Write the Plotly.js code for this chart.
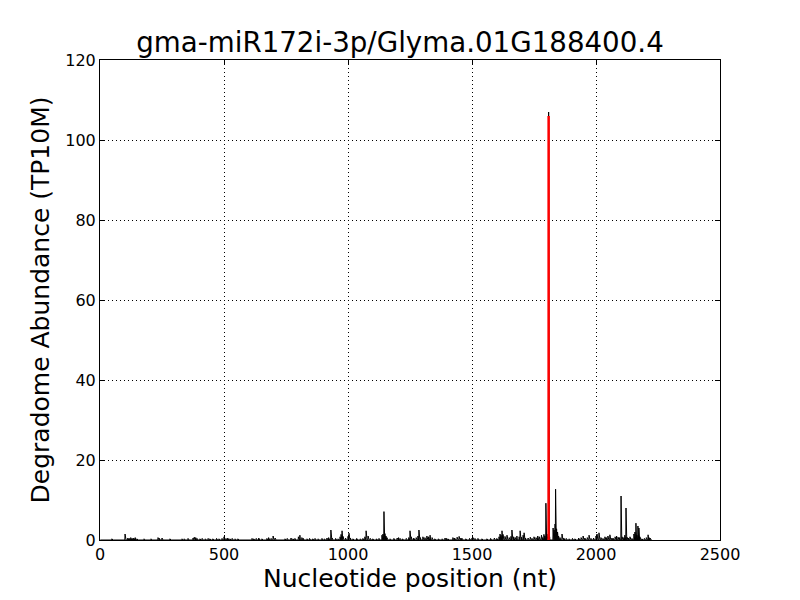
<!DOCTYPE html>
<html>
<head>
<meta charset="utf-8">
<script src="https://cdn.plot.ly/plotly-3.0.1.min.js"></script>
<style>html,body{margin:0;padding:0;background:#fff;}#chart{width:800px;height:600px;}</style>
</head>
<body>
<div id="chart"></div>
<script>
// Sparse degradome read positions (nt) and abundances (TP10M)
const positions = [48,101,104,112,118,124,130,136,142,149,178,206,234,240,250,282,
331,340,355,375,380,386,391,403,412,425,436,443,455,470,480,492,
500,508,515,524,533,545,556,613,620,630,640,653,673,680,690,698,706,
746,755,770,778,786,800,806,814,820,835,845,858,867,
880,895,905,915,922,931,936,950,960,968,972,976,980,990,1000,1004,1010,1020,1035,1050,1060,
1068,1073,1081,1090,1100,1115,1125,1137,1141,1145,1149,1153,1157,1170,1185,
1198,1204,1210,1220,1235,1245,1250,1255,1265,1275,1282,1286,1292,
1302,1310,1318,1325,1331,1339,1350,1365,1380,1391,1397,1403,1423,1430,1440,1448,1455,1460,
1475,1490,1500,1504,1512,1524,1540,1560,1575,1590,1600,
1609,1613,1617,1621,1625,1633,1641,1650,1657,1661,1668,1675,1681,1690,1694,1700,1706,1710,1716,
1726,1735,1742,1750,1758,1765,1772,1780,1785,1790,1794,1798,1802,1805,1809,1813,
1827,1831,1835,1837,1841,1845,1849,1855,1863,1870,1880,1892,1905,1915,1930,1940,1948,1955,1965,1972,1980,
1990,2000,2004,2012,2020,2028,2036,2042,2048,2056,2064,2070,2077,2083,2089,2095,2101,2105,2112,2116,2121,2125,2131,2137,2145,2153,2157,2161,2165,2169,2173,2177,2185,2195,2203,2210,2214,2218];
const abundances = [0.3,1.5,0.5,0.5,0.4,0.6,0.4,0.5,0.6,0.3,0.3,0.3,0.6,0.4,0.5,0.3,
0.3,0.3,0.4,0.5,0.7,0.6,0.4,0.3,0.4,0.3,0.4,0.3,0.3,0.4,0.3,0.4,
0.8,0.4,0.5,0.3,0.4,0.3,0.3,0.4,0.3,0.4,0.5,0.3,0.4,0.6,0.4,1.0,0.5,
0.3,0.4,0.5,0.3,0.4,0.8,1.2,0.6,0.4,0.3,0.4,0.3,0.4,
0.3,0.4,0.3,0.5,0.6,2.5,0.5,0.4,0.3,0.8,1.4,2.3,0.9,0.5,0.9,1.7,0.5,0.3,0.4,0.3,0.4,
0.8,2.3,1.0,0.4,0.3,0.3,0.4,1.2,1.5,7.1,1.6,1.0,0.6,0.3,0.4,
0.5,0.6,0.4,0.3,0.4,0.6,2.3,0.8,0.5,0.6,1.0,2.5,0.6,
0.8,0.6,1.0,0.8,1.2,0.6,0.3,0.3,0.3,0.5,0.4,0.3,0.6,0.5,0.7,0.9,0.5,0.4,
0.3,0.4,0.5,0.6,0.4,0.4,0.3,0.3,0.4,0.5,0.4,
0.8,1.5,1.2,2.3,1.4,0.9,1.2,0.6,0.9,2.5,0.8,0.6,1.0,0.8,2.3,0.7,1.2,1.8,0.5,
0.5,0.7,0.4,0.8,0.6,1.0,0.8,1.2,0.6,1.4,1.0,9.2,1.5,0.8,107,0.8,
3.0,2.5,4.0,12.7,2.8,2.0,1.0,0.6,1.5,0.5,0.4,0.3,0.4,0.3,0.5,0.6,1.0,0.5,0.6,1.2,0.4,
0.5,1.0,1.5,1.8,0.6,0.4,0.8,0.6,1.0,1.3,0.5,0.4,0.8,1.0,0.7,0.6,11.0,0.8,0.6,1.2,8.0,0.7,0.5,0.8,0.4,1.5,2.0,4.2,1.2,3.5,3.0,0.8,0.3,0.4,0.6,1.3,0.6,0.5];
const transcriptLength = 2225;
const cleavageSite = [1809];
const cleavageAbundance = [106];
const xTicks = [0,500,1000,1500,2000,2500];
const yTicks = [0,20,40,60,80,100,120];

const lookup = {};
positions.forEach((p,i)=>{lookup[p]=abundances[i];});
const xs = [], ys = [];
for (let p=1; p<=transcriptLength; p++){ xs.push(p); ys.push(lookup[p]||0); }

const traces = [
  {x: xs, y: ys, type:'scatter', mode:'lines', line:{color:'black', width:1}, hoverinfo:'skip'},
  {x: [cleavageSite[0], cleavageSite[0]], y: [0, cleavageAbundance[0]], type:'scatter', mode:'lines', line:{color:'red', width:2.5}, hoverinfo:'skip'}
];

const axisCommon = {
  showline:true, linecolor:'black', linewidth:1, mirror:'ticks',
  ticks:'inside', ticklen:5, tickcolor:'black',
  showgrid:true, gridcolor:'black', griddash:'1px,3px', gridwidth:1,
  zeroline:false, tickfont:{size:16, color:'black'}
};

const layout = {
  width:800, height:600,
  margin:{l:100, r:80, t:60, b:60},
  paper_bgcolor:'white', plot_bgcolor:'white',
  font:{family:'DejaVu Sans', color:'black'},
  showlegend:false,
  title:{text:'gma-miR172i-3p/Glyma.01G188400.4', font:{size:27.7, color:'black'}, x:0.5, xanchor:'center', y:0.93, yanchor:'middle'},
  xaxis: Object.assign({}, axisCommon, {range:[0,2500], tickvals:xTicks, ticktext:xTicks.map(String),
    title:{text:'Nucleotide position (nt)', font:{size:25}, standoff:6}}),
  yaxis: Object.assign({}, axisCommon, {range:[0,120], tickvals:yTicks, ticktext:yTicks.map(String),
    title:{text:'Degradome Abundance (TP10M)', font:{size:25}, standoff:8}})
};

Plotly.newPlot('chart', traces, layout, {displayModeBar:false, staticPlot:true});
</script>
</body>
</html>
